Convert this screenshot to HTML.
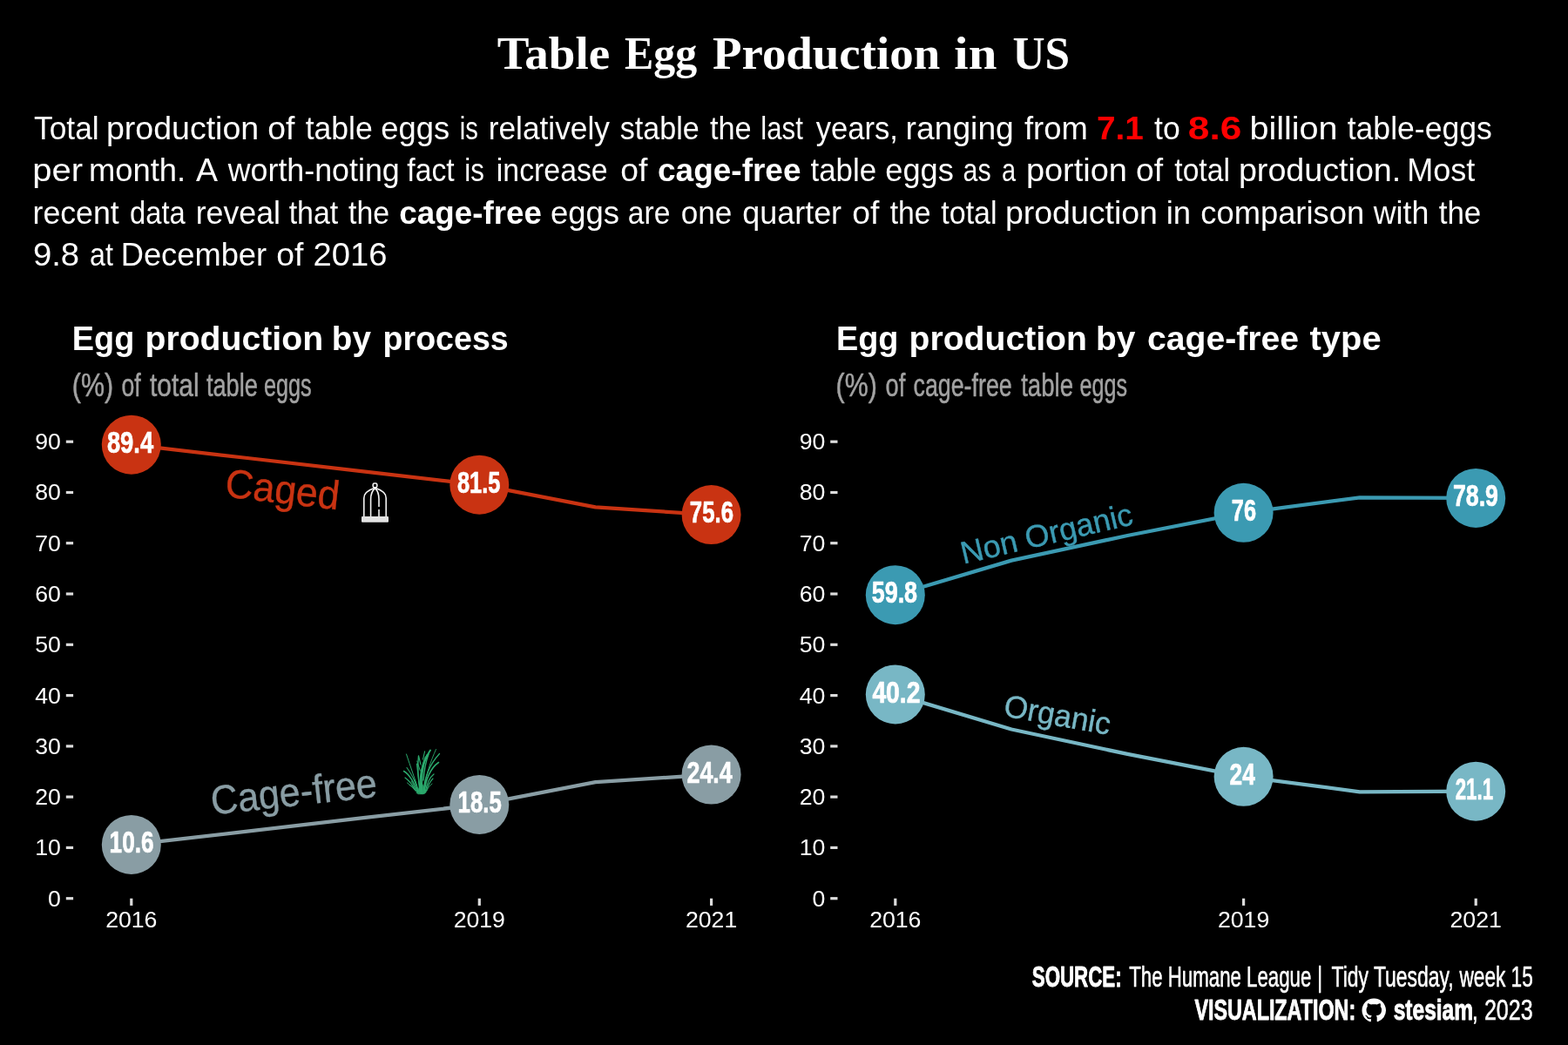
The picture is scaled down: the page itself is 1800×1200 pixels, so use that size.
<!DOCTYPE html>
<html lang="en"><head><meta charset="utf-8"><title>Table Egg Production in US</title>
<style>html,body{margin:0;padding:0;background:#000;}body{width:1800px;height:1200px;overflow:hidden;}svg{display:block;}text{white-space:pre;}</style>
</head><body>
<svg width="1800" height="1200" viewBox="0 0 1800 1200" role="img" aria-label="Table Egg Production in US">
<rect width="1800" height="1200" fill="#000"/>
<text x="570.7" y="78.8" font-family='"Liberation Serif", serif' font-size="53.5" fill="#fff" font-weight="bold" textLength="129.4" lengthAdjust="spacingAndGlyphs">Table</text>
<text x="717.0" y="78.8" font-family='"Liberation Serif", serif' font-size="53.5" fill="#fff" font-weight="bold" textLength="83.2" lengthAdjust="spacingAndGlyphs">Egg</text>
<text x="818.0" y="78.8" font-family='"Liberation Serif", serif' font-size="53.5" fill="#fff" font-weight="bold" textLength="261.2" lengthAdjust="spacingAndGlyphs">Production</text>
<text x="1095.3" y="78.8" font-family='"Liberation Serif", serif' font-size="53.5" fill="#fff" font-weight="bold" textLength="49.1" lengthAdjust="spacingAndGlyphs">in</text>
<text x="1162.5" y="78.8" font-family='"Liberation Serif", serif' font-size="53.5" fill="#fff" font-weight="bold" textLength="65.5" lengthAdjust="spacingAndGlyphs">US</text>
<text x="39.0" y="160.0" font-family='"Liberation Sans", sans-serif' font-size="36" fill="#fff" font-weight="normal" textLength="74.7" lengthAdjust="spacingAndGlyphs">Total</text>
<text x="121.9" y="160.0" font-family='"Liberation Sans", sans-serif' font-size="36" fill="#fff" font-weight="normal" textLength="175.3" lengthAdjust="spacingAndGlyphs">production</text>
<text x="307.3" y="160.0" font-family='"Liberation Sans", sans-serif' font-size="36" fill="#fff" font-weight="normal" textLength="31.1" lengthAdjust="spacingAndGlyphs">of</text>
<text x="350.7" y="160.0" font-family='"Liberation Sans", sans-serif' font-size="36" fill="#fff" font-weight="normal" textLength="77.1" lengthAdjust="spacingAndGlyphs">table</text>
<text x="437.3" y="160.0" font-family='"Liberation Sans", sans-serif' font-size="36" fill="#fff" font-weight="normal" textLength="78.8" lengthAdjust="spacingAndGlyphs">eggs</text>
<text x="527.7" y="160.0" font-family='"Liberation Sans", sans-serif' font-size="36" fill="#fff" font-weight="normal" textLength="21.1" lengthAdjust="spacingAndGlyphs">is</text>
<text x="560.7" y="160.0" font-family='"Liberation Sans", sans-serif' font-size="36" fill="#fff" font-weight="normal" textLength="139.3" lengthAdjust="spacingAndGlyphs">relatively</text>
<text x="711.8" y="160.0" font-family='"Liberation Sans", sans-serif' font-size="36" fill="#fff" font-weight="normal" textLength="91.0" lengthAdjust="spacingAndGlyphs">stable</text>
<text x="815.0" y="160.0" font-family='"Liberation Sans", sans-serif' font-size="36" fill="#fff" font-weight="normal" textLength="47.7" lengthAdjust="spacingAndGlyphs">the</text>
<text x="873.3" y="160.0" font-family='"Liberation Sans", sans-serif' font-size="36" fill="#fff" font-weight="normal" textLength="48.5" lengthAdjust="spacingAndGlyphs">last</text>
<text x="936.7" y="160.0" font-family='"Liberation Sans", sans-serif' font-size="36" fill="#fff" font-weight="normal" textLength="94.2" lengthAdjust="spacingAndGlyphs">years,</text>
<text x="1039.6" y="160.0" font-family='"Liberation Sans", sans-serif' font-size="36" fill="#fff" font-weight="normal" textLength="124.2" lengthAdjust="spacingAndGlyphs">ranging</text>
<text x="1176.0" y="160.0" font-family='"Liberation Sans", sans-serif' font-size="36" fill="#fff" font-weight="normal" textLength="72.7" lengthAdjust="spacingAndGlyphs">from</text>
<text x="1258.9" y="160.0" font-family='"Liberation Sans", sans-serif' font-size="36" fill="#ff0000" font-weight="bold" textLength="53.9" lengthAdjust="spacingAndGlyphs">7.1</text>
<text x="1325.0" y="160.0" font-family='"Liberation Sans", sans-serif' font-size="36" fill="#fff" font-weight="normal" textLength="29.7" lengthAdjust="spacingAndGlyphs">to</text>
<text x="1363.8" y="160.0" font-family='"Liberation Sans", sans-serif' font-size="36" fill="#ff0000" font-weight="bold" textLength="61.5" lengthAdjust="spacingAndGlyphs">8.6</text>
<text x="1434.5" y="160.0" font-family='"Liberation Sans", sans-serif' font-size="36" fill="#fff" font-weight="normal" textLength="101.1" lengthAdjust="spacingAndGlyphs">billion</text>
<text x="1546.7" y="160.0" font-family='"Liberation Sans", sans-serif' font-size="36" fill="#fff" font-weight="normal" textLength="166.1" lengthAdjust="spacingAndGlyphs">table-eggs</text>
<text x="37.3" y="208.3" font-family='"Liberation Sans", sans-serif' font-size="36" fill="#fff" font-weight="normal" textLength="57.8" lengthAdjust="spacingAndGlyphs">per</text>
<text x="102.0" y="208.3" font-family='"Liberation Sans", sans-serif' font-size="36" fill="#fff" font-weight="normal" textLength="111.1" lengthAdjust="spacingAndGlyphs">month.</text>
<text x="225.0" y="208.3" font-family='"Liberation Sans", sans-serif' font-size="36" fill="#fff" font-weight="normal" textLength="25.0" lengthAdjust="spacingAndGlyphs">A</text>
<text x="261.7" y="208.3" font-family='"Liberation Sans", sans-serif' font-size="36" fill="#fff" font-weight="normal" textLength="197.1" lengthAdjust="spacingAndGlyphs">worth-noting</text>
<text x="467.3" y="208.3" font-family='"Liberation Sans", sans-serif' font-size="36" fill="#fff" font-weight="normal" textLength="54.4" lengthAdjust="spacingAndGlyphs">fact</text>
<text x="533.3" y="208.3" font-family='"Liberation Sans", sans-serif' font-size="36" fill="#fff" font-weight="normal" textLength="22.6" lengthAdjust="spacingAndGlyphs">is</text>
<text x="569.8" y="208.3" font-family='"Liberation Sans", sans-serif' font-size="36" fill="#fff" font-weight="normal" textLength="127.9" lengthAdjust="spacingAndGlyphs">increase</text>
<text x="712.3" y="208.3" font-family='"Liberation Sans", sans-serif' font-size="36" fill="#fff" font-weight="normal" textLength="31.1" lengthAdjust="spacingAndGlyphs">of</text>
<text x="755.0" y="208.3" font-family='"Liberation Sans", sans-serif' font-size="36" fill="#fff" font-weight="bold" textLength="164.5" lengthAdjust="spacingAndGlyphs">cage-free</text>
<text x="930.5" y="208.3" font-family='"Liberation Sans", sans-serif' font-size="36" fill="#fff" font-weight="normal" textLength="75.5" lengthAdjust="spacingAndGlyphs">table</text>
<text x="1016.3" y="208.3" font-family='"Liberation Sans", sans-serif' font-size="36" fill="#fff" font-weight="normal" textLength="78.5" lengthAdjust="spacingAndGlyphs">eggs</text>
<text x="1105.5" y="208.3" font-family='"Liberation Sans", sans-serif' font-size="36" fill="#fff" font-weight="normal" textLength="32.1" lengthAdjust="spacingAndGlyphs">as</text>
<text x="1149.9" y="208.3" font-family='"Liberation Sans", sans-serif' font-size="36" fill="#fff" font-weight="normal" textLength="16.1" lengthAdjust="spacingAndGlyphs">a</text>
<text x="1177.9" y="208.3" font-family='"Liberation Sans", sans-serif' font-size="36" fill="#fff" font-weight="normal" textLength="116.0" lengthAdjust="spacingAndGlyphs">portion</text>
<text x="1304.0" y="208.3" font-family='"Liberation Sans", sans-serif' font-size="36" fill="#fff" font-weight="normal" textLength="31.1" lengthAdjust="spacingAndGlyphs">of</text>
<text x="1348.3" y="208.3" font-family='"Liberation Sans", sans-serif' font-size="36" fill="#fff" font-weight="normal" textLength="63.6" lengthAdjust="spacingAndGlyphs">total</text>
<text x="1421.9" y="208.3" font-family='"Liberation Sans", sans-serif' font-size="36" fill="#fff" font-weight="normal" textLength="186.4" lengthAdjust="spacingAndGlyphs">production.</text>
<text x="1615.3" y="208.3" font-family='"Liberation Sans", sans-serif' font-size="36" fill="#fff" font-weight="normal" textLength="78.0" lengthAdjust="spacingAndGlyphs">Most</text>
<text x="37.5" y="256.7" font-family='"Liberation Sans", sans-serif' font-size="36" fill="#fff" font-weight="normal" textLength="99.2" lengthAdjust="spacingAndGlyphs">recent</text>
<text x="149.1" y="256.7" font-family='"Liberation Sans", sans-serif' font-size="36" fill="#fff" font-weight="normal" textLength="63.7" lengthAdjust="spacingAndGlyphs">data</text>
<text x="224.7" y="256.7" font-family='"Liberation Sans", sans-serif' font-size="36" fill="#fff" font-weight="normal" textLength="97.3" lengthAdjust="spacingAndGlyphs">reveal</text>
<text x="331.7" y="256.7" font-family='"Liberation Sans", sans-serif' font-size="36" fill="#fff" font-weight="normal" textLength="56.6" lengthAdjust="spacingAndGlyphs">that</text>
<text x="400.0" y="256.7" font-family='"Liberation Sans", sans-serif' font-size="36" fill="#fff" font-weight="normal" textLength="47.0" lengthAdjust="spacingAndGlyphs">the</text>
<text x="458.3" y="256.7" font-family='"Liberation Sans", sans-serif' font-size="36" fill="#fff" font-weight="bold" textLength="163.6" lengthAdjust="spacingAndGlyphs">cage-free</text>
<text x="632.0" y="256.7" font-family='"Liberation Sans", sans-serif' font-size="36" fill="#fff" font-weight="normal" textLength="79.1" lengthAdjust="spacingAndGlyphs">eggs</text>
<text x="720.8" y="256.7" font-family='"Liberation Sans", sans-serif' font-size="36" fill="#fff" font-weight="normal" textLength="48.5" lengthAdjust="spacingAndGlyphs">are</text>
<text x="781.7" y="256.7" font-family='"Liberation Sans", sans-serif' font-size="36" fill="#fff" font-weight="normal" textLength="58.6" lengthAdjust="spacingAndGlyphs">one</text>
<text x="852.3" y="256.7" font-family='"Liberation Sans", sans-serif' font-size="36" fill="#fff" font-weight="normal" textLength="113.8" lengthAdjust="spacingAndGlyphs">quarter</text>
<text x="978.3" y="256.7" font-family='"Liberation Sans", sans-serif' font-size="36" fill="#fff" font-weight="normal" textLength="31.1" lengthAdjust="spacingAndGlyphs">of</text>
<text x="1021.7" y="256.7" font-family='"Liberation Sans", sans-serif' font-size="36" fill="#fff" font-weight="normal" textLength="46.8" lengthAdjust="spacingAndGlyphs">the</text>
<text x="1080.3" y="256.7" font-family='"Liberation Sans", sans-serif' font-size="36" fill="#fff" font-weight="normal" textLength="64.3" lengthAdjust="spacingAndGlyphs">total</text>
<text x="1153.9" y="256.7" font-family='"Liberation Sans", sans-serif' font-size="36" fill="#fff" font-weight="normal" textLength="175.0" lengthAdjust="spacingAndGlyphs">production</text>
<text x="1338.7" y="256.7" font-family='"Liberation Sans", sans-serif' font-size="36" fill="#fff" font-weight="normal" textLength="28.4" lengthAdjust="spacingAndGlyphs">in</text>
<text x="1378.3" y="256.7" font-family='"Liberation Sans", sans-serif' font-size="36" fill="#fff" font-weight="normal" textLength="187.8" lengthAdjust="spacingAndGlyphs">comparison</text>
<text x="1576.7" y="256.7" font-family='"Liberation Sans", sans-serif' font-size="36" fill="#fff" font-weight="normal" textLength="63.6" lengthAdjust="spacingAndGlyphs">with</text>
<text x="1651.7" y="256.7" font-family='"Liberation Sans", sans-serif' font-size="36" fill="#fff" font-weight="normal" textLength="48.6" lengthAdjust="spacingAndGlyphs">the</text>
<text x="37.9" y="305.1" font-family='"Liberation Sans", sans-serif' font-size="36" fill="#fff" font-weight="normal" textLength="53.2" lengthAdjust="spacingAndGlyphs">9.8</text>
<text x="103.1" y="305.1" font-family='"Liberation Sans", sans-serif' font-size="36" fill="#fff" font-weight="normal" textLength="26.9" lengthAdjust="spacingAndGlyphs">at</text>
<text x="138.7" y="305.1" font-family='"Liberation Sans", sans-serif' font-size="36" fill="#fff" font-weight="normal" textLength="167.4" lengthAdjust="spacingAndGlyphs">December</text>
<text x="317.3" y="305.1" font-family='"Liberation Sans", sans-serif' font-size="36" fill="#fff" font-weight="normal" textLength="31.1" lengthAdjust="spacingAndGlyphs">of</text>
<text x="359.6" y="305.1" font-family='"Liberation Sans", sans-serif' font-size="36" fill="#fff" font-weight="normal" textLength="84.9" lengthAdjust="spacingAndGlyphs">2016</text>
<text x="82.8" y="401.8" font-family='"Liberation Sans", sans-serif' font-size="38" fill="#fff" font-weight="bold" textLength="71.5" lengthAdjust="spacingAndGlyphs">Egg</text>
<text x="166.5" y="401.8" font-family='"Liberation Sans", sans-serif' font-size="38" fill="#fff" font-weight="bold" textLength="204.6" lengthAdjust="spacingAndGlyphs">production</text>
<text x="380.8" y="401.8" font-family='"Liberation Sans", sans-serif' font-size="38" fill="#fff" font-weight="bold" textLength="45.1" lengthAdjust="spacingAndGlyphs">by</text>
<text x="439.6" y="401.8" font-family='"Liberation Sans", sans-serif' font-size="38" fill="#fff" font-weight="bold" textLength="144.1" lengthAdjust="spacingAndGlyphs">process</text>
<text x="959.9" y="401.8" font-family='"Liberation Sans", sans-serif' font-size="38" fill="#fff" font-weight="bold" textLength="71.5" lengthAdjust="spacingAndGlyphs">Egg</text>
<text x="1043.6" y="401.8" font-family='"Liberation Sans", sans-serif' font-size="38" fill="#fff" font-weight="bold" textLength="204.3" lengthAdjust="spacingAndGlyphs">production</text>
<text x="1258.0" y="401.8" font-family='"Liberation Sans", sans-serif' font-size="38" fill="#fff" font-weight="bold" textLength="45.4" lengthAdjust="spacingAndGlyphs">by</text>
<text x="1317.0" y="401.8" font-family='"Liberation Sans", sans-serif' font-size="38" fill="#fff" font-weight="bold" textLength="174.0" lengthAdjust="spacingAndGlyphs">cage-free</text>
<text x="1503.6" y="401.8" font-family='"Liberation Sans", sans-serif' font-size="38" fill="#fff" font-weight="bold" textLength="82.0" lengthAdjust="spacingAndGlyphs">type</text>
<text x="82.8" y="454.6" font-family='"Liberation Sans", sans-serif' font-size="36.3" fill="#a2a2a2" font-weight="normal" textLength="47.3" lengthAdjust="spacingAndGlyphs" stroke="#a2a2a2" stroke-width="0.5" stroke-linejoin="round">(%)</text>
<text x="139.5" y="454.6" font-family='"Liberation Sans", sans-serif' font-size="36.3" fill="#a2a2a2" font-weight="normal" textLength="22.2" lengthAdjust="spacingAndGlyphs" stroke="#a2a2a2" stroke-width="0.5" stroke-linejoin="round">of</text>
<text x="171.9" y="454.6" font-family='"Liberation Sans", sans-serif' font-size="36.3" fill="#a2a2a2" font-weight="normal" textLength="56.7" lengthAdjust="spacingAndGlyphs" stroke="#a2a2a2" stroke-width="0.5" stroke-linejoin="round">total</text>
<text x="236.9" y="454.6" font-family='"Liberation Sans", sans-serif' font-size="36.3" fill="#a2a2a2" font-weight="normal" textLength="59.1" lengthAdjust="spacingAndGlyphs" stroke="#a2a2a2" stroke-width="0.5" stroke-linejoin="round">table</text>
<text x="302.9" y="454.6" font-family='"Liberation Sans", sans-serif' font-size="36.3" fill="#a2a2a2" font-weight="normal" textLength="54.8" lengthAdjust="spacingAndGlyphs" stroke="#a2a2a2" stroke-width="0.5" stroke-linejoin="round">eggs</text>
<text x="959.6" y="454.6" font-family='"Liberation Sans", sans-serif' font-size="36.3" fill="#a2a2a2" font-weight="normal" textLength="47.2" lengthAdjust="spacingAndGlyphs" stroke="#a2a2a2" stroke-width="0.5" stroke-linejoin="round">(%)</text>
<text x="1016.5" y="454.6" font-family='"Liberation Sans", sans-serif' font-size="36.3" fill="#a2a2a2" font-weight="normal" textLength="22.7" lengthAdjust="spacingAndGlyphs" stroke="#a2a2a2" stroke-width="0.5" stroke-linejoin="round">of</text>
<text x="1048.5" y="454.6" font-family='"Liberation Sans", sans-serif' font-size="36.3" fill="#a2a2a2" font-weight="normal" textLength="113.2" lengthAdjust="spacingAndGlyphs" stroke="#a2a2a2" stroke-width="0.5" stroke-linejoin="round">cage-free</text>
<text x="1172.2" y="454.6" font-family='"Liberation Sans", sans-serif' font-size="36.3" fill="#a2a2a2" font-weight="normal" textLength="59.8" lengthAdjust="spacingAndGlyphs" stroke="#a2a2a2" stroke-width="0.5" stroke-linejoin="round">table</text>
<text x="1239.6" y="454.6" font-family='"Liberation Sans", sans-serif' font-size="36.3" fill="#a2a2a2" font-weight="normal" textLength="54.4" lengthAdjust="spacingAndGlyphs" stroke="#a2a2a2" stroke-width="0.5" stroke-linejoin="round">eggs</text>
<text x="69.9" y="1040.6" font-family='"Liberation Sans", sans-serif' font-size="26.67" fill="#fff" font-weight="normal" text-anchor="end">0</text>
<rect x="75.8" y="1030.1" width="8.3" height="3.2" fill="#dcdcdc"/>
<text x="69.9" y="982.3" font-family='"Liberation Sans", sans-serif' font-size="26.67" fill="#fff" font-weight="normal" text-anchor="end">10</text>
<rect x="75.8" y="971.8" width="8.3" height="3.2" fill="#dcdcdc"/>
<text x="69.9" y="924.0" font-family='"Liberation Sans", sans-serif' font-size="26.67" fill="#fff" font-weight="normal" text-anchor="end">20</text>
<rect x="75.8" y="913.5" width="8.3" height="3.2" fill="#dcdcdc"/>
<text x="69.9" y="865.8" font-family='"Liberation Sans", sans-serif' font-size="26.67" fill="#fff" font-weight="normal" text-anchor="end">30</text>
<rect x="75.8" y="855.3" width="8.3" height="3.2" fill="#dcdcdc"/>
<text x="69.9" y="807.5" font-family='"Liberation Sans", sans-serif' font-size="26.67" fill="#fff" font-weight="normal" text-anchor="end">40</text>
<rect x="75.8" y="797.0" width="8.3" height="3.2" fill="#dcdcdc"/>
<text x="69.9" y="749.2" font-family='"Liberation Sans", sans-serif' font-size="26.67" fill="#fff" font-weight="normal" text-anchor="end">50</text>
<rect x="75.8" y="738.7" width="8.3" height="3.2" fill="#dcdcdc"/>
<text x="69.9" y="690.9" font-family='"Liberation Sans", sans-serif' font-size="26.67" fill="#fff" font-weight="normal" text-anchor="end">60</text>
<rect x="75.8" y="680.4" width="8.3" height="3.2" fill="#dcdcdc"/>
<text x="69.9" y="632.6" font-family='"Liberation Sans", sans-serif' font-size="26.67" fill="#fff" font-weight="normal" text-anchor="end">70</text>
<rect x="75.8" y="622.1" width="8.3" height="3.2" fill="#dcdcdc"/>
<text x="69.9" y="574.4" font-family='"Liberation Sans", sans-serif' font-size="26.67" fill="#fff" font-weight="normal" text-anchor="end">80</text>
<rect x="75.8" y="563.9" width="8.3" height="3.2" fill="#dcdcdc"/>
<text x="69.9" y="516.1" font-family='"Liberation Sans", sans-serif' font-size="26.67" fill="#fff" font-weight="normal" text-anchor="end">90</text>
<rect x="75.8" y="505.6" width="8.3" height="3.2" fill="#dcdcdc"/>
<rect x="149.2" y="1031.7" width="3.2" height="8.2" fill="#dcdcdc"/>
<text x="150.8" y="1065.0" font-family='"Liberation Sans", sans-serif' font-size="26.67" fill="#fff" font-weight="normal" text-anchor="middle">2016</text>
<rect x="548.7" y="1031.7" width="3.2" height="8.2" fill="#dcdcdc"/>
<text x="550.3" y="1065.0" font-family='"Liberation Sans", sans-serif' font-size="26.67" fill="#fff" font-weight="normal" text-anchor="middle">2019</text>
<rect x="815.0" y="1031.7" width="3.2" height="8.2" fill="#dcdcdc"/>
<text x="816.6" y="1065.0" font-family='"Liberation Sans", sans-serif' font-size="26.67" fill="#fff" font-weight="normal" text-anchor="middle">2021</text>
<text x="947.3" y="1040.6" font-family='"Liberation Sans", sans-serif' font-size="26.67" fill="#fff" font-weight="normal" text-anchor="end">0</text>
<rect x="953.2" y="1030.1" width="8.3" height="3.2" fill="#dcdcdc"/>
<text x="947.3" y="982.3" font-family='"Liberation Sans", sans-serif' font-size="26.67" fill="#fff" font-weight="normal" text-anchor="end">10</text>
<rect x="953.2" y="971.8" width="8.3" height="3.2" fill="#dcdcdc"/>
<text x="947.3" y="924.0" font-family='"Liberation Sans", sans-serif' font-size="26.67" fill="#fff" font-weight="normal" text-anchor="end">20</text>
<rect x="953.2" y="913.5" width="8.3" height="3.2" fill="#dcdcdc"/>
<text x="947.3" y="865.8" font-family='"Liberation Sans", sans-serif' font-size="26.67" fill="#fff" font-weight="normal" text-anchor="end">30</text>
<rect x="953.2" y="855.3" width="8.3" height="3.2" fill="#dcdcdc"/>
<text x="947.3" y="807.5" font-family='"Liberation Sans", sans-serif' font-size="26.67" fill="#fff" font-weight="normal" text-anchor="end">40</text>
<rect x="953.2" y="797.0" width="8.3" height="3.2" fill="#dcdcdc"/>
<text x="947.3" y="749.2" font-family='"Liberation Sans", sans-serif' font-size="26.67" fill="#fff" font-weight="normal" text-anchor="end">50</text>
<rect x="953.2" y="738.7" width="8.3" height="3.2" fill="#dcdcdc"/>
<text x="947.3" y="690.9" font-family='"Liberation Sans", sans-serif' font-size="26.67" fill="#fff" font-weight="normal" text-anchor="end">60</text>
<rect x="953.2" y="680.4" width="8.3" height="3.2" fill="#dcdcdc"/>
<text x="947.3" y="632.6" font-family='"Liberation Sans", sans-serif' font-size="26.67" fill="#fff" font-weight="normal" text-anchor="end">70</text>
<rect x="953.2" y="622.1" width="8.3" height="3.2" fill="#dcdcdc"/>
<text x="947.3" y="574.4" font-family='"Liberation Sans", sans-serif' font-size="26.67" fill="#fff" font-weight="normal" text-anchor="end">80</text>
<rect x="953.2" y="563.9" width="8.3" height="3.2" fill="#dcdcdc"/>
<text x="947.3" y="516.1" font-family='"Liberation Sans", sans-serif' font-size="26.67" fill="#fff" font-weight="normal" text-anchor="end">90</text>
<rect x="953.2" y="505.6" width="8.3" height="3.2" fill="#dcdcdc"/>
<rect x="1026.2" y="1031.7" width="3.2" height="8.2" fill="#dcdcdc"/>
<text x="1027.8" y="1065.0" font-family='"Liberation Sans", sans-serif' font-size="26.67" fill="#fff" font-weight="normal" text-anchor="middle">2016</text>
<rect x="1426.0" y="1031.7" width="3.2" height="8.2" fill="#dcdcdc"/>
<text x="1427.6" y="1065.0" font-family='"Liberation Sans", sans-serif' font-size="26.67" fill="#fff" font-weight="normal" text-anchor="middle">2019</text>
<rect x="1692.6" y="1031.7" width="3.2" height="8.2" fill="#dcdcdc"/>
<text x="1694.2" y="1065.0" font-family='"Liberation Sans", sans-serif' font-size="26.67" fill="#fff" font-weight="normal" text-anchor="middle">2021</text>
<polyline points="150.8,510.7 284.0,526.0 417.1,541.4 550.3,556.7 683.5,582.4 816.6,591.1" fill="none" stroke="#C93312" stroke-width="4.27" stroke-linejoin="round" stroke-linecap="butt"/>
<polyline points="150.8,969.9 284.0,954.6 417.1,939.2 550.3,923.9 683.5,898.2 816.6,889.5" fill="none" stroke="#899DA4" stroke-width="4.27" stroke-linejoin="round" stroke-linecap="butt"/>
<polyline points="1027.8,683.2 1161.1,643.6 1294.3,615.0 1427.6,588.8 1560.9,571.3 1694.2,571.9" fill="none" stroke="#3B9AB2" stroke-width="4.27" stroke-linejoin="round" stroke-linecap="butt"/>
<polyline points="1027.8,797.4 1161.1,837.5 1294.3,865.9 1427.6,891.8 1560.9,909.3 1694.2,908.7" fill="none" stroke="#78B7C5" stroke-width="4.27" stroke-linejoin="round" stroke-linecap="butt"/>
<circle cx="150.8" cy="510.7" r="34" fill="#C93312"/>
<text x="122.9" y="519.8" font-family='"Liberation Sans", sans-serif' font-size="35.3" fill="#fff" font-weight="bold" textLength="53.2" lengthAdjust="spacingAndGlyphs" stroke="#fff" stroke-width="0.7" stroke-linejoin="round">89.4</text>
<circle cx="550.3" cy="556.7" r="34" fill="#C93312"/>
<text x="524.9" y="565.8" font-family='"Liberation Sans", sans-serif' font-size="35.3" fill="#fff" font-weight="bold" textLength="49.6" lengthAdjust="spacingAndGlyphs" stroke="#fff" stroke-width="0.7" stroke-linejoin="round">81.5</text>
<circle cx="816.6" cy="591.1" r="34" fill="#C93312"/>
<text x="791.8" y="600.2" font-family='"Liberation Sans", sans-serif' font-size="35.3" fill="#fff" font-weight="bold" textLength="50.2" lengthAdjust="spacingAndGlyphs" stroke="#fff" stroke-width="0.7" stroke-linejoin="round">75.6</text>
<circle cx="150.8" cy="969.9" r="34" fill="#899DA4"/>
<text x="125.6" y="979.0" font-family='"Liberation Sans", sans-serif' font-size="35.3" fill="#fff" font-weight="bold" textLength="50.9" lengthAdjust="spacingAndGlyphs" stroke="#fff" stroke-width="0.7" stroke-linejoin="round">10.6</text>
<circle cx="550.3" cy="923.9" r="34" fill="#899DA4"/>
<text x="525.6" y="933.0" font-family='"Liberation Sans", sans-serif' font-size="35.3" fill="#fff" font-weight="bold" textLength="50.2" lengthAdjust="spacingAndGlyphs" stroke="#fff" stroke-width="0.7" stroke-linejoin="round">18.5</text>
<circle cx="816.6" cy="889.5" r="34" fill="#899DA4"/>
<text x="788.5" y="898.6" font-family='"Liberation Sans", sans-serif' font-size="35.3" fill="#fff" font-weight="bold" textLength="52.2" lengthAdjust="spacingAndGlyphs" stroke="#fff" stroke-width="0.7" stroke-linejoin="round">24.4</text>
<circle cx="1027.8" cy="683.2" r="34" fill="#3B9AB2"/>
<text x="1000.7" y="692.3" font-family='"Liberation Sans", sans-serif' font-size="35.3" fill="#fff" font-weight="bold" textLength="52.4" lengthAdjust="spacingAndGlyphs" stroke="#fff" stroke-width="0.7" stroke-linejoin="round">59.8</text>
<circle cx="1427.6" cy="588.8" r="34" fill="#3B9AB2"/>
<text x="1413.8" y="597.9" font-family='"Liberation Sans", sans-serif' font-size="35.3" fill="#fff" font-weight="bold" textLength="28.2" lengthAdjust="spacingAndGlyphs" stroke="#fff" stroke-width="0.7" stroke-linejoin="round">76</text>
<circle cx="1694.2" cy="571.9" r="34" fill="#3B9AB2"/>
<text x="1668.0" y="581.0" font-family='"Liberation Sans", sans-serif' font-size="35.3" fill="#fff" font-weight="bold" textLength="51.9" lengthAdjust="spacingAndGlyphs" stroke="#fff" stroke-width="0.7" stroke-linejoin="round">78.9</text>
<circle cx="1027.8" cy="797.4" r="34" fill="#78B7C5"/>
<text x="1001.4" y="806.5" font-family='"Liberation Sans", sans-serif' font-size="35.3" fill="#fff" font-weight="bold" textLength="55.0" lengthAdjust="spacingAndGlyphs" stroke="#fff" stroke-width="0.7" stroke-linejoin="round">40.2</text>
<circle cx="1427.6" cy="891.8" r="34" fill="#78B7C5"/>
<text x="1411.6" y="900.9" font-family='"Liberation Sans", sans-serif' font-size="35.3" fill="#fff" font-weight="bold" textLength="29.2" lengthAdjust="spacingAndGlyphs" stroke="#fff" stroke-width="0.7" stroke-linejoin="round">24</text>
<circle cx="1694.2" cy="908.7" r="34" fill="#78B7C5"/>
<text x="1670.7" y="917.8" font-family='"Liberation Sans", sans-serif' font-size="35.3" fill="#fff" font-weight="bold" textLength="43.4" lengthAdjust="spacingAndGlyphs" stroke="#fff" stroke-width="0.7" stroke-linejoin="round">21.1</text>
<text transform="translate(257.3 570.3) rotate(6.57)" font-family='"Liberation Sans", sans-serif' font-size="46.5" fill="#C93312" stroke="#C93312" stroke-width="0.4" textLength="131.5" lengthAdjust="spacingAndGlyphs">Caged</text>
<text transform="translate(243.8 935.6) rotate(-6.25)" font-family='"Liberation Sans", sans-serif' font-size="46.5" fill="#899DA4" stroke="#899DA4" stroke-width="0.4" textLength="191.5" lengthAdjust="spacingAndGlyphs">Cage-free</text>
<text transform="translate(1106.0 647.8) rotate(-13.2)" font-family='"Liberation Sans", sans-serif' font-size="36" fill="#3B9AB2" stroke="#3B9AB2" stroke-width="0.4" textLength="201.5" lengthAdjust="spacingAndGlyphs">Non Organic</text>
<text transform="translate(1151.0 822.0) rotate(10.2)" font-family='"Liberation Sans", sans-serif' font-size="36" fill="#78B7C5" stroke="#78B7C5" stroke-width="0.4" textLength="123.5" lengthAdjust="spacingAndGlyphs">Organic</text>
<g fill="none" stroke="#f2f2f2" stroke-width="1.6" stroke-linecap="round">
<path d="M417.8 593 V572 C417.8 567 422 563 430.5 560.3 C439 563 443.2 567 443.2 572 V593"/>
<path d="M425.6 593 V573 C425.6 567 428 563 430.5 560.6"/>
<path d="M435 593 V573 C435 567 433 563 430.5 560.6"/>
<rect x="428.2" y="555" width="4.6" height="4.8" rx="1.6"/>
</g>
<rect x="415" y="593" width="31" height="6.8" rx="1" fill="#e3e3e3"/>
<rect x="433.9" y="582" width="2.2" height="3" fill="#000"/>
<g fill="none" stroke="#2BAA6D" stroke-linecap="round">
<path d="M481 910 C477 896 471 880 466.5 866" stroke-width="1.0"/>
<path d="M479 909 C476 900 470 889 463.5 885.5" stroke-width="1.5"/>
<path d="M480 909 C477 898 472 888 467 881.5" stroke-width="1.1"/>
<path d="M477 908 C474 902 469 896 465 893" stroke-width="1.2"/>
<path d="M476 907 C473 903 470 901 467.5 899" stroke-width="1.0"/>
<path d="M475.5 905.5 C474 904 472 902.5 470 901.5" stroke-width="0.9"/>
<path d="M484 911 C481 893 483 878 494 861.5" stroke-width="2.0"/>
<path d="M483 911 C480 895 479 880 480.5 868" stroke-width="1.4"/>
<path d="M485 911 C483 895 485 880 490 867" stroke-width="1.6"/>
<path d="M482 911 C481 900 480 890 478.5 877" stroke-width="1.2"/>
<path d="M486 896 C487 884 489 874 492 866" stroke-width="1.4"/>
<path d="M483.5 890 C484 882 486 875 488.5 869" stroke-width="1.3"/>
<path d="M486 911 C487 892 493 878 504.5 865.5" stroke-width="1.3"/>
<path d="M487 911 C488 896 494 882 503.5 875.5" stroke-width="1.6"/>
<path d="M488 910 C490 900 494 892 498 889" stroke-width="1.3"/>
<path d="M489 909 C491 903 494 897 497 894" stroke-width="1.1"/>
<path d="M487 905 C489 890 494 875 500.5 860.5" stroke-width="0.9"/>
<path d="M490 908 C491 905 493.5 902 496 900" stroke-width="0.9"/>
<path d="M478 909 C476 904 474 900 472 897" stroke-width="0.9"/>
<path d="M480 911 C479 905 478 900 476 895" stroke-width="1.0"/>
<path d="M483 878 L480.8 869" stroke-width="1.1"/>
<path d="M482.3 885 L478.8 874" stroke-width="1.0"/>
<path d="M485.5 872 L487.6 862.8" stroke-width="1.1"/>
<path d="M487 875 L491.8 867" stroke-width="1.0"/>
</g>
<path d="M477.5 910.5 L481 904 L484 898 L487 904 L489.5 910 L486 912.3 L480 912.3 Z" fill="#2BAA6D" opacity="0.8"/>
<text x="1184.8" y="1133.3" font-family='"Liberation Sans", sans-serif' font-size="32.6" fill="#fff" font-weight="bold" textLength="102.8" lengthAdjust="spacingAndGlyphs" stroke="#fff" stroke-width="0.9" stroke-linejoin="round">SOURCE:</text>
<text x="1296.2" y="1133.3" font-family='"Liberation Sans", sans-serif' font-size="32.6" fill="#fff" font-weight="normal" textLength="209.2" lengthAdjust="spacingAndGlyphs" stroke="#fff" stroke-width="0.55" stroke-linejoin="round">The Humane League</text>
<text x="1512.0" y="1133.3" font-family='"Liberation Sans", sans-serif' font-size="32.6" fill="#fff" font-weight="normal" textLength="6.2" lengthAdjust="spacingAndGlyphs" stroke="#fff" stroke-width="0.4" stroke-linejoin="round">|</text>
<text x="1528.5" y="1133.3" font-family='"Liberation Sans", sans-serif' font-size="32.6" fill="#fff" font-weight="normal" textLength="140.2" lengthAdjust="spacingAndGlyphs" stroke="#fff" stroke-width="0.55" stroke-linejoin="round">Tidy Tuesday,</text>
<text x="1675.5" y="1133.3" font-family='"Liberation Sans", sans-serif' font-size="32.6" fill="#fff" font-weight="normal" textLength="84.3" lengthAdjust="spacingAndGlyphs" stroke="#fff" stroke-width="0.55" stroke-linejoin="round">week 15</text>
<text x="1371.4" y="1170.7" font-family='"Liberation Sans", sans-serif' font-size="32.6" fill="#fff" font-weight="bold" textLength="184.8" lengthAdjust="spacingAndGlyphs" stroke="#fff" stroke-width="0.9" stroke-linejoin="round">VISUALIZATION:</text>
<text x="1599.7" y="1170.7" font-family='"Liberation Sans", sans-serif' font-size="32.6" fill="#fff" font-weight="bold" textLength="91.4" lengthAdjust="spacingAndGlyphs" stroke="#fff" stroke-width="0.9" stroke-linejoin="round">stesiam</text>
<text x="1689.5" y="1170.7" font-family='"Liberation Sans", sans-serif' font-size="32.6" fill="#fff" font-weight="normal" textLength="7.6" lengthAdjust="spacingAndGlyphs" stroke="#fff" stroke-width="0.3" stroke-linejoin="round">,</text>
<text x="1703.9" y="1170.7" font-family='"Liberation Sans", sans-serif' font-size="32.6" fill="#fff" font-weight="normal" textLength="55.8" lengthAdjust="spacingAndGlyphs" stroke="#fff" stroke-width="0.55" stroke-linejoin="round">2023</text>
<g transform="translate(1563.5 1146.5) scale(1.72)"><path fill="#fff" d="M8 0C3.58 0 0 3.58 0 8c0 3.54 2.29 6.53 5.47 7.59.4.07.55-.17.55-.38 0-.19-.01-.82-.01-1.49-2.01.37-2.53-.49-2.69-.94-.09-.23-.48-.94-.82-1.13-.28-.15-.68-.52-.01-.53.63-.01 1.08.58 1.23.82.72 1.21 1.87.87 2.33.66.07-.52.28-.87.51-1.07-1.78-.2-3.64-.89-3.64-3.95 0-.87.31-1.59.82-2.15-.08-.2-.36-1.02.08-2.12 0 0 .67-.21 2.2.82.64-.18 1.32-.27 2-.27.68 0 1.36.09 2 .27 1.53-1.04 2.2-.82 2.2-.82.44 1.1.16 1.92.08 2.12.51.56.82 1.27.82 2.15 0 3.07-1.87 3.75-3.65 3.95.29.25.54.73.54 1.48 0 1.07-.01 1.93-.01 2.2 0 .21.15.46.55.38A8.013 8.013 0 0016 8c0-4.42-3.58-8-8-8z"/></g>
</svg></body></html>
